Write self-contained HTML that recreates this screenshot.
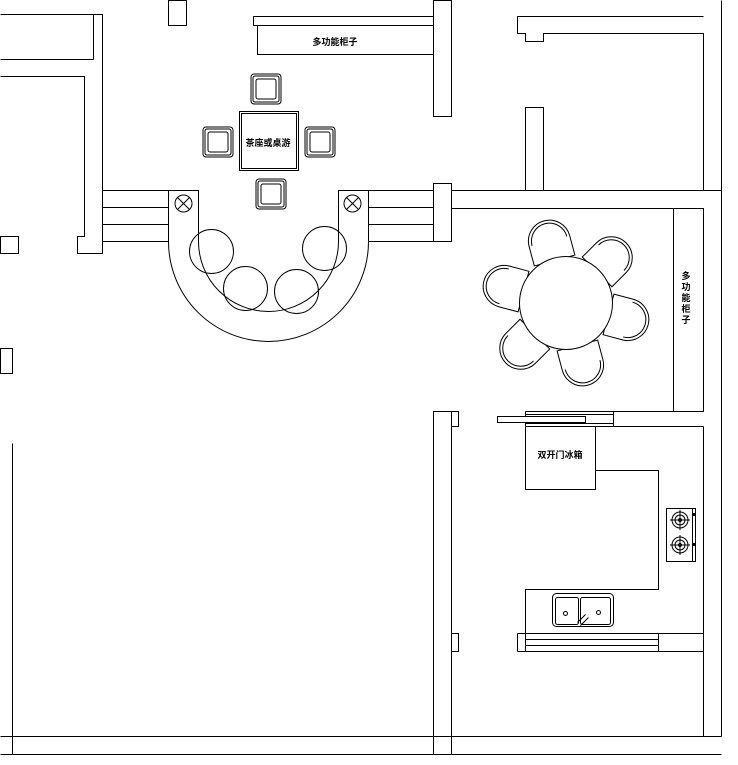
<!DOCTYPE html>
<html><head><meta charset="utf-8"><style>
html,body{margin:0;padding:0;background:#fff;}
svg{display:block}
text{font-family:"Liberation Sans","Noto Sans CJK SC",sans-serif;font-weight:bold;fill:#000}
</style></head><body>
<svg width="738" height="765" viewBox="0 0 738 765" xmlns="http://www.w3.org/2000/svg">
<defs>
<g id="sq">
<rect x="-15" y="-15" width="30" height="30" fill="none" stroke="#000" rx="3"/>
<rect x="-13" y="-13" width="26" height="26" fill="none" stroke="#000" rx="2"/>
<rect x="-10" y="-10" width="20" height="20" fill="none" stroke="#000" rx="2"/>
</g>
<g id="dc">
<path d="M0,-21 L20,-21 A21,21 0 0 1 20,21 L0,21 Z" fill="#fff" stroke="#000"/>
<path d="M20,-18 A18,18 0 0 1 20,18" fill="none" stroke="#000"/>
</g>
<g id="burner">
<circle r="8" fill="none" stroke="#000"/>
<circle r="5" fill="none" stroke="#000"/>
<circle r="1.5" fill="none" stroke="#000"/>
<path d="M-10,0H10M0,-10V10" stroke="#000"/>
</g>
</defs>
<g fill="none" stroke="#000" stroke-width="1" transform="translate(0.5,0.5)">
<!-- top left -->
<path d="M0,14H102V253H77V236H84V76H0"/>
<path d="M93,14V59M0,59H93"/>
<rect x="0" y="236" width="18" height="17"/>
<rect x="168" y="0" width="18" height="25"/>
<!-- top cabinet -->
<path d="M433,16H253V25H433"/>
<path d="M257,25V54H433"/>
<!-- center wall -->
<rect x="433" y="0" width="18" height="116"/>
<!-- railings -->
<path d="M102,190H168M102,207H168M102,224H168M102,241H168"/>
<path d="M368,190H433M368,207H433M368,224H433M368,241H433"/>
<rect x="433" y="183" width="18" height="58"/>
<!-- bar counter -->
<path d="M168,190H198V241A70,70 0 0 0 338,241V190H368V241A100,100 0 0 1 168,241Z"/>
<circle cx="183" cy="203" r="8.5"/><path d="M177,197L189,209M189,197L177,209"/>
<circle cx="352" cy="203" r="8.5"/><path d="M346,197L358,209M358,197L346,209"/>
<circle cx="211" cy="251" r="22"/>
<circle cx="245" cy="288" r="22"/>
<circle cx="296" cy="291" r="22"/>
<circle cx="324" cy="248" r="22"/>
<!-- tea table -->
<rect x="239" y="111" width="59" height="59"/>
<rect x="241" y="113" width="55" height="55"/>
</g>
<use href="#sq" x="266" y="89"/>
<use href="#sq" x="218" y="142"/>
<use href="#sq" x="320" y="142"/>
<use href="#sq" x="271" y="194"/>
<text x="335" y="45" font-size="9" text-anchor="middle">多功能柜子</text>
<text x="268" y="146" font-size="9" text-anchor="middle">茶座或桌游</text>
<g fill="none" stroke="#000" stroke-width="1" transform="translate(0.5,0.5)">
<!-- top right -->
<path d="M703,16H517V33H525V41H543V33H703V190"/>
<path d="M721,0V736"/>
<rect x="525" y="107" width="18" height="83"/>
<path d="M451,190H721M451,208H703"/>
<path d="M703,208V411"/>
<rect x="673" y="208" width="30" height="203"/>
<!-- lower walls -->
<path d="M433,754V411H451V754"/>
<rect x="451" y="411" width="7" height="15"/>
<rect x="451" y="633" width="7" height="18"/>
<path d="M0,736H721M0,754H721"/>
<path d="M12,443V754"/>
<rect x="0" y="348" width="12" height="25"/>
<path d="M703,426V736"/>
<!-- kitchen top counter -->
<path d="M525,411H703M525,426H703M525,411V426M613,411V426M525,414H613M525,423H613"/>
<rect x="497" y="416" width="88" height="6" fill="#fff"/>
<rect x="525" y="426" width="70" height="63"/>
<path d="M595,470H658V589H525V633"/>
<!-- stove -->
<rect x="666" y="508" width="29" height="53"/>
<path d="M692,508V561"/>
<!-- sink -->
<rect x="552" y="593" width="61" height="33" rx="4"/>
<rect x="555" y="597" width="23" height="27" rx="2"/>
<rect x="580" y="597" width="30" height="27" rx="2"/>
<circle cx="565" cy="613" r="2"/><circle cx="598" cy="612" r="2"/>
<path d="M577,622L585,614M580,625L588,617"/>
<!-- bottom counter -->
<path d="M517,633H703M517,651H703M517,633V651M525,633V651M525,639H658M525,645H658M658,633V651"/>
</g>
<use href="#burner" x="680" y="520"/>
<use href="#burner" x="680" y="545"/>
<rect x="693" y="513" width="2" height="3" fill="#000"/>
<rect x="693" y="543" width="2" height="3" fill="#000"/>
<!-- dining table -->
<g transform="translate(566,303)">
<use href="#dc" transform="rotate(15) translate(44,0)"/>
<use href="#dc" transform="rotate(75) translate(44,0)"/>
<use href="#dc" transform="rotate(135) translate(44,0)"/>
<use href="#dc" transform="rotate(195) translate(44,0)"/>
<use href="#dc" transform="rotate(255) translate(44,0)"/>
<use href="#dc" transform="rotate(315) translate(44,0)"/>
<circle r="46.5" fill="#fff" stroke="#000"/>
</g>
<text x="560" y="458" font-size="9" text-anchor="middle" font-weight="normal">双开门冰箱</text>
<g font-size="9" text-anchor="middle">
<text x="686" y="279">多</text>
<text x="686" y="290">功</text>
<text x="686" y="301">能</text>
<text x="686" y="312">柜</text>
<text x="686" y="323">子</text>
</g>
</svg>
</body></html>
